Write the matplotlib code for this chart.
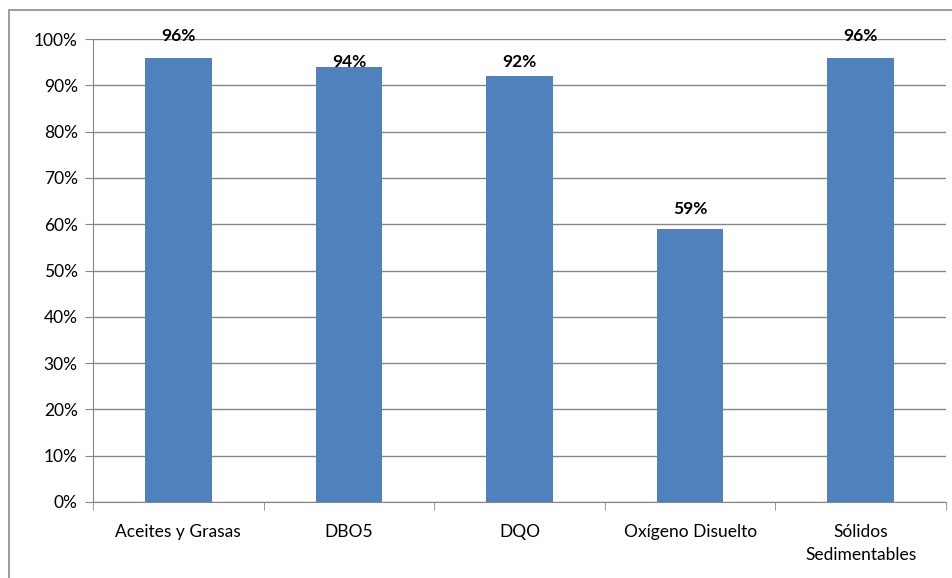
import matplotlib.pyplot as plt
from matplotlib.patches import Rectangle
from matplotlib.ticker import PercentFormatter, FixedLocator

# removal efficiency per parameter
categories = ["Aceites y Grasas", "DBO5", "DQO", "Oxígeno Disuelto", "Sólidos\nSedimentables"]
values = [96, 94, 92, 59, 96]

# gap (points) between each bar top and its value label
label_gap = [12, 0, 6.5, 10.5, 12]

plt.rcParams["font.family"] = ["Lato", "DejaVu Sans"]
plt.rcParams["font.size"] = 12.5

fig = plt.figure(figsize=(9.52, 5.78), dpi=100)
ax = fig.add_axes([93 / 952, 1 - 502 / 578, (946 - 93) / 952, (502 - 39) / 578])

# chart frame
fig.patches.append(Rectangle((9 / 952, -0.05), 1.2, 1 - 10 / 578 + 0.05, transform=fig.transFigure,
                             fill=False, edgecolor="#8c8c8c", linewidth=1.2))

x = range(len(categories))
bars = ax.bar(x, values, width=0.39, color="#4f81bd", zorder=3)

for b, v, g in zip(bars, values, label_gap):
    ax.annotate(f"{v}%", (b.get_x() + b.get_width() / 2, v), xytext=(0, g),
                textcoords="offset points", ha="center", va="baseline",
                fontweight="bold", fontsize=12.5, zorder=4)

ax.set_xlim(-0.5, len(categories) - 0.5)
ax.set_ylim(0, 100)
ax.set_yticks(range(0, 101, 10))
ax.yaxis.set_major_formatter(PercentFormatter(decimals=0))
ax.set_xticks(list(x))
ax.set_xticklabels(categories, linespacing=1.5)
ax.tick_params(axis="x", length=0, pad=16)
ax.tick_params(axis="y", length=6, color="#868686", pad=5)

# category separators on x axis
ax.xaxis.set_minor_locator(FixedLocator([i - 0.5 for i in range(len(categories) + 1)]))
ax.tick_params(axis="x", which="minor", length=6, color="#868686")

ax.grid(axis="y", color="#868686", linewidth=1, zorder=0)
for side in ["top", "right"]:
    ax.spines[side].set_visible(False)
ax.spines["left"].set_color("#868686")
ax.spines["bottom"].set_color("#868686")

fig.savefig("out.png", dpi=100)
